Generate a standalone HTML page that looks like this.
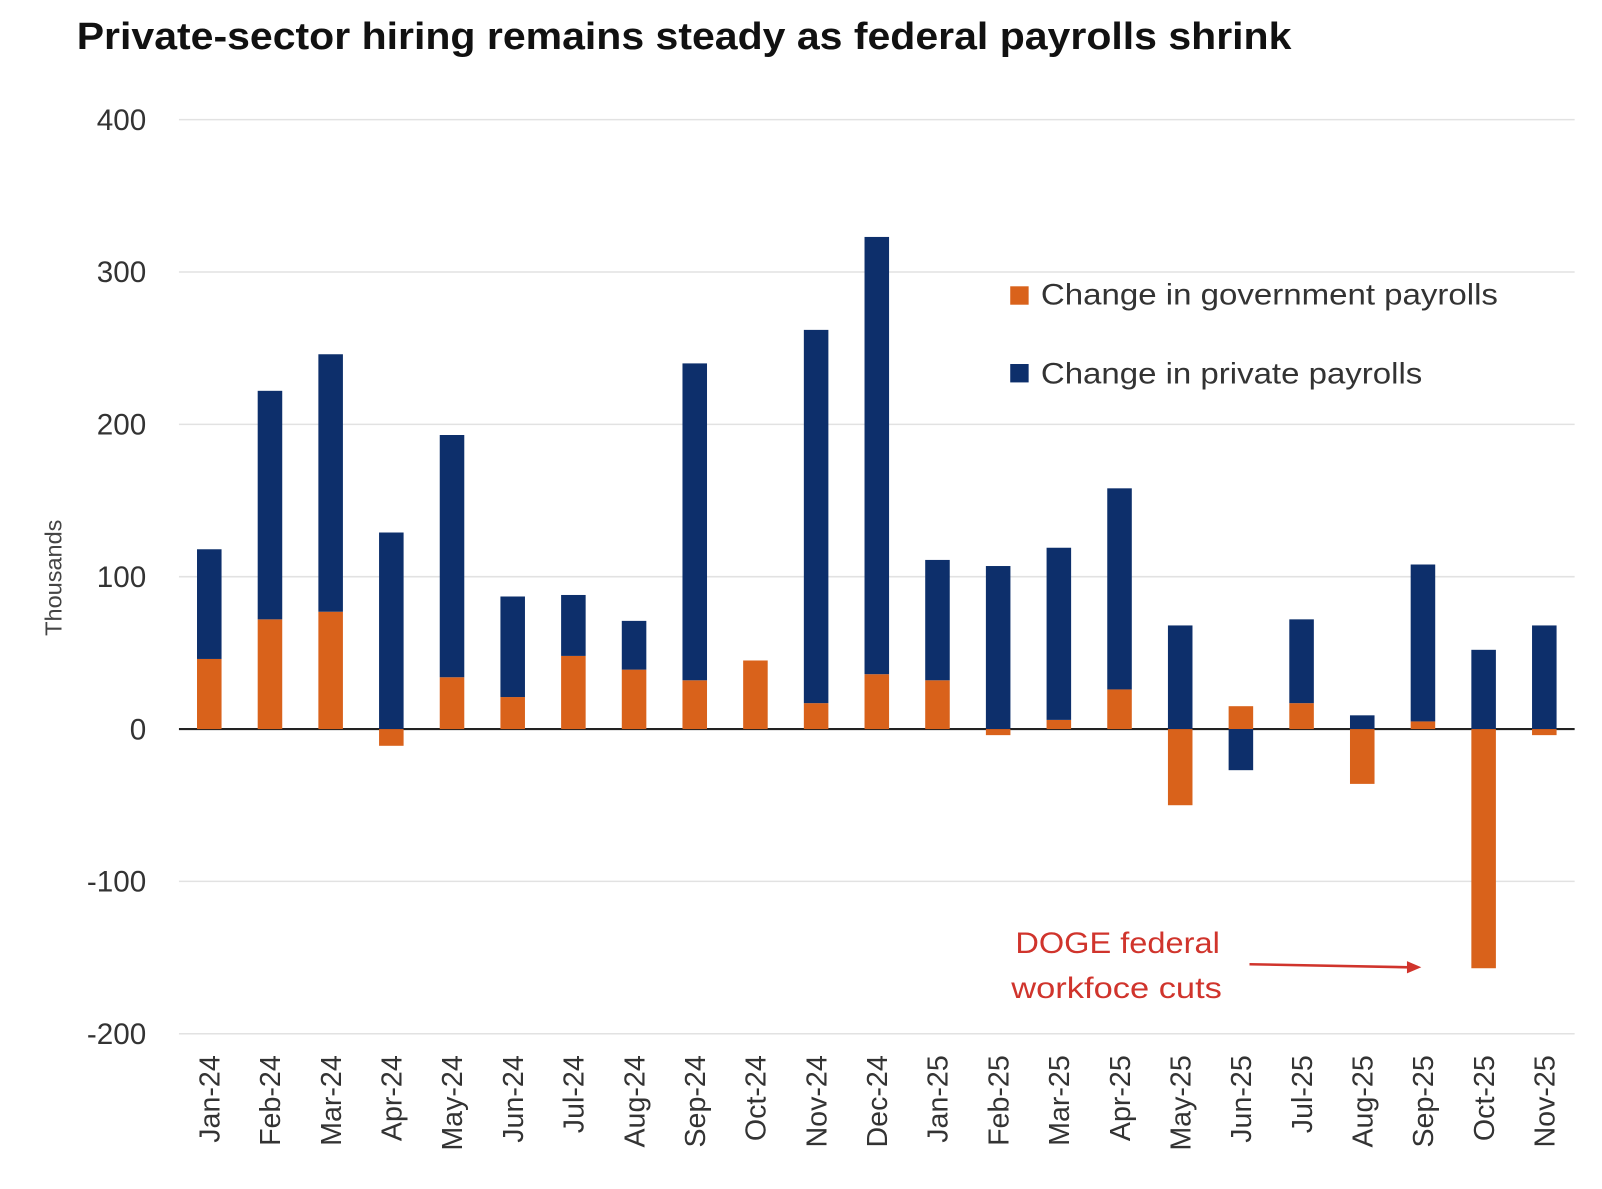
<!DOCTYPE html>
<html><head><meta charset="utf-8"><style>
body{margin:0;background:#fff;width:1602px;height:1184px;overflow:hidden}
svg text{font-family:"Liberation Sans",Arial,sans-serif}
</style></head><body>
<svg id="chart" width="1602" height="1184" xmlns="http://www.w3.org/2000/svg">
<g transform="scale(1.0225)">
<text x="75" y="48" font-size="37" font-weight="bold" fill="#111" textLength="1188" lengthAdjust="spacingAndGlyphs">Private-sector hiring remains steady as federal payrolls shrink</text>
<g id="grid"></g><g id="bars"></g><g id="xlabels"></g>
<text transform="translate(60,565) rotate(-90)" text-anchor="middle" font-size="23" fill="#444">Thousands</text>
<g>
<rect x="988" y="280" width="18" height="18" fill="#d9621b"/>
<text x="1018" y="298" font-size="29" fill="#333" textLength="447" lengthAdjust="spacingAndGlyphs">Change in government payrolls</text>
<rect x="988" y="356" width="18" height="18" fill="#0d2f6b"/>
<text x="1018" y="375" font-size="29" fill="#333" textLength="373" lengthAdjust="spacingAndGlyphs">Change in private payrolls</text>
</g>
<g>
<text x="993" y="932" font-size="29" fill="#d0342c" textLength="200" lengthAdjust="spacingAndGlyphs">DOGE federal</text>
<text x="989" y="976" font-size="29" fill="#d0342c" textLength="206" lengthAdjust="spacingAndGlyphs">workfoce cuts</text>
<line x1="1222" y1="943" x2="1378" y2="946" stroke="#d0342c" stroke-width="2.5"/>
<polygon points="1390,946 1376,940 1376,952" fill="#d0342c"/>
</g>
</g>
</svg>
<script>
const categories=["Jan-24","Feb-24","Mar-24","Apr-24","May-24","Jun-24","Jul-24","Aug-24","Sep-24","Oct-24","Nov-24","Dec-24","Jan-25","Feb-25","Mar-25","Apr-25","May-25","Jun-25","Jul-25","Aug-25","Sep-25","Oct-25","Nov-25"];
const govValues=[46,72,77,-11,34,21,48,39,32,45,17,36,32,-4,6,26,-50,15,17,-36,5,-157,-4];
const privateValues=[72,150,169,129,159,66,40,32,208,0,245,287,79,107,113,132,68,-27,55,9,103,52,68];
const yTicks=[400,300,200,100,0,-100,-200];
const NS="http://www.w3.org/2000/svg";
const x0=175,x1=1540,yZero=713,pxPer=1.49,barW=24;
const band=(x1-x0)/categories.length;
const xC=i=>x0+band*(i+0.5);
const yS=v=>yZero-v*pxPer;
function mk(tag,attrs,parent){const e=document.createElementNS(NS,tag);for(const k in attrs)e.setAttribute(k,attrs[k]);parent.appendChild(e);return e;}
const grid=document.getElementById('grid');
yTicks.forEach(t=>{
 const l=mk('line',{x1:x0,x2:x1,y1:yS(t),y2:yS(t),stroke:t===0?'#222':'#e2e2e2','stroke-width':t===0?2:1.5},grid);
 
 
 const tx=mk('text',{x:143,y:yS(t)+10,'text-anchor':'end','font-size':29,fill:'#333'},grid);
 tx.textContent=t;
 
 
});
const bars=document.getElementById('bars');
categories.forEach((c,i)=>{
 let pos=0,neg=0;
 [[govValues[i],'#d9621b','gov-bar'],[privateValues[i],'#0d2f6b','private-bar']].forEach(([v,col,nm])=>{
  let a,b;
  if(v>=0){a=pos;b=pos+v;pos=b;}else{a=neg;b=neg+v;neg=b;}
  const top=yS(Math.max(a,b)),h=Math.abs(yS(a)-yS(b));
  const r=mk('rect',{x:xC(i)-barW/2,y:top,width:barW,height:h,fill:col},bars);
  
  
 });
 const xl=document.getElementById('xlabels');
 const t=mk('text',{transform:`translate(${xC(i)+10},1032) rotate(-90)`,'text-anchor':'end','font-size':28,fill:'#333'},xl);
 t.textContent=c;
 
 
});
</script>
</body></html>
